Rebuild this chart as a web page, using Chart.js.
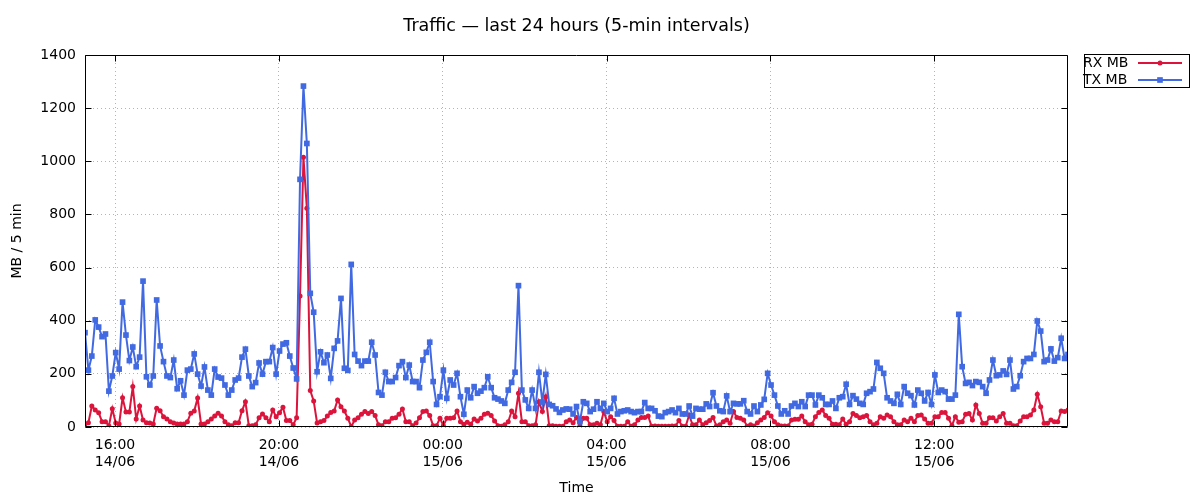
<!DOCTYPE html>
<html>
<head>
<meta charset="utf-8">
<title>Traffic - last 24 hours</title>
<script src="https://cdn.jsdelivr.net/npm/chart.js@4.4.1/dist/chart.umd.min.js"></script>
<style>
    html, body { margin: 0; padding: 0; background: #fff; }
    #wrap { width: 1200px; height: 500px; }
</style>
</head>
<body>
<div id="wrap"><canvas id="trafficChart" width="1200" height="500"></canvas></div>
<script>
// One sample every 5 minutes, first one at 15:16 on 14/06 (minutes from 00:00 14/06)
const startMinute = 916;
const stepMinutes = 5;

// Received MB per 5 min
const rxMB = [
    11, 16, 79, 64, 54, 20, 20, 4, 69, 15, 11, 110, 56, 56, 152, 30, 79, 26, 16, 15, 11, 71, 61, 39, 30, 20, 15, 11, 11, 11, 20, 52, 60, 109, 11, 11, 20,
    30, 41, 52, 41, 20, 8, 5, 16, 16, 61, 95, 5, 5, 8, 35, 49, 35, 20, 64, 39, 54, 74, 24, 24, 8, 35, 493, 1015, 823, 137, 98, 15, 20, 24, 41,
    55, 60, 102, 76, 60, 33, 1, 26, 35, 48, 58, 51, 58, 43, 8, 5, 20, 20, 33, 35, 48, 68, 20, 20, 5, 15, 35, 58, 60, 43, 5, 5, 33, 5, 33, 33,
    35, 60, 20, 10, 18, 10, 30, 23, 33, 48, 52, 43, 23, 5, 3, 8, 20, 60, 39, 127, 20, 20, 5, 5, 8, 95, 58, 114, 5, 5, 3, 3, 3, 20,
    26, 16, 36, 3, 33, 33, 8, 8, 14, 8, 58, 20, 39, 24, 3, 3, 3, 20, 3, 8, 26, 36, 36, 41, 3, 4, 3, 3, 3, 3, 4, 4, 24, 3, 3,
    45, 8, 8, 26, 8, 16, 24, 36, 4, 8, 20, 26, 14, 58, 36, 33, 26, 3, 8, 4, 16, 26, 36, 54, 41, 20, 8, 4, 4, 4, 26, 29, 29, 41, 20,
    8, 10, 39, 55, 64, 43, 33, 10, 10, 8, 30, 10, 20, 51, 43, 35, 39, 43, 20, 8, 14, 39, 33, 45, 39, 20, 8, 8, 26, 20, 33, 20, 43, 45, 30,
    14, 14, 39, 39, 55, 55, 33, 5, 39, 18, 20, 48, 51, 26, 83, 51, 14, 14, 35, 35, 23, 39, 51, 14, 14, 5, 5, 23, 39, 39, 45, 64, 123, 76, 14, 14, 26, 20, 20, 60, 58, 64
];

// Transmitted MB per 5 min
const txMB = [
    355, 214, 267, 403, 376, 340, 350, 135, 192, 280, 218, 470, 346, 250, 301, 227, 263, 549, 189, 158, 192, 478, 305, 246, 192, 186, 252, 144, 174, 120, 214, 218, 275, 199, 154, 226, 139,
    120, 218, 188, 184, 158, 120, 139, 177, 184, 263, 293, 192, 152, 167, 241, 199, 246, 246, 299, 199, 286, 312, 317, 267, 222, 181, 932, 1283, 1067, 503, 432, 208, 283, 242, 271,
    183, 296, 324, 484, 221, 213, 612, 273, 248, 231, 248, 248, 319, 271, 130, 120, 206, 171, 171, 186, 231, 246, 186, 233, 171, 171, 148, 252, 281, 319, 171, 85, 114, 214, 108, 177,
    158, 202, 114, 48, 139, 110, 152, 127, 135, 148, 189, 148, 110, 105, 98, 89, 139, 168, 206, 532, 139, 102, 70, 139, 70, 206, 94, 198, 85, 80, 68, 55, 64, 68,
    67, 49, 77, 20, 95, 89, 58, 67, 95, 70, 89, 58, 70, 108, 49, 58, 61, 64, 58, 54, 58, 58, 92, 70, 70, 61, 41, 39, 54, 58, 64, 54, 70, 49, 49,
    79, 41, 70, 67, 67, 87, 77, 129, 79, 61, 58, 117, 58, 89, 87, 87, 99, 58, 49, 79, 58, 83, 104, 202, 158, 120, 79, 49, 61, 49, 79, 89, 77, 95, 77,
    120, 120, 83, 120, 110, 85, 85, 98, 70, 110, 114, 161, 85, 118, 105, 89, 85, 127, 133, 143, 243, 221, 202, 110, 98, 89, 123, 85, 152, 127, 118, 83, 139, 127, 98,
    130, 85, 196, 130, 139, 133, 105, 105, 120, 424, 227, 164, 168, 156, 171, 168, 152, 127, 177, 252, 193, 196, 211, 198, 252, 143, 152, 193, 246, 258, 258, 273, 399, 361, 246, 252, 294, 248, 261, 334, 258, 273
];

// x axis ticks
const tickMinutes = [960, 1200, 1440, 1680, 1920, 2160];
const tickTimes = ['16:00', '20:00', '00:00', '04:00', '08:00', '12:00'];
const tickDates = ['14/06', '14/06', '15/06', '15/06', '15/06', '15/06'];

// y axis ticks
const yTicks = [0, 200, 400, 600, 800, 1000, 1200, 1400];

const RED = '#dc143c';
const BLUE = '#4169e1';
const FONT = 'DejaVu Sans';

function toPoints(values) {
    return values.map((v, i) => ({ x: startMinute + i * stepMinutes, y: v }));
}

// gnuplot style box round the plot, with inward tick marks on all four sides
const framePlugin = {
    id: 'frame',
    afterDraw(chart) {
        const { ctx, chartArea: a, scales } = chart;
        const L = Math.round(a.left) + 0.5, R = Math.round(a.right) - 0.5;
        const T = Math.round(a.top) + 0.5, B = Math.round(a.bottom) - 0.5;
        ctx.save();
        ctx.strokeStyle = '#000';
        ctx.lineWidth = 1;
        ctx.beginPath();
        ctx.rect(L, T, R - L, B - T);
        yTicks.forEach(v => {
            const py = Math.round(scales.y.getPixelForValue(v)) + 0.5;
            ctx.moveTo(L, py); ctx.lineTo(L + 6, py);
            ctx.moveTo(R, py); ctx.lineTo(R - 6, py);
        });
        tickMinutes.forEach(v => {
            const px = Math.round(scales.x.getPixelForValue(v)) + 0.5;
            ctx.moveTo(px, B); ctx.lineTo(px, B - 6);
            ctx.moveTo(px, T); ctx.lineTo(px, T + 6);
        });
        ctx.stroke();

        // key box, top right outside the plot
        ctx.strokeRect(1084.5, 54.5, 105, 33);
        ctx.font = '14px "' + FONT + '"';
        ctx.textBaseline = 'middle';
        ctx.textAlign = 'left';
        const rows = [
            { label: 'RX MB', color: RED, style: 'circle', radius: 2.5, y: 63 },
            { label: 'TX MB', color: BLUE, style: 'rect', radius: 4, y: 80 }
        ];
        rows.forEach(r => {
            ctx.fillStyle = '#000';
            ctx.fillText(r.label, 1083, r.y);
            ctx.strokeStyle = r.color;
            ctx.lineWidth = 2;
            ctx.beginPath();
            ctx.moveTo(1138, r.y); ctx.lineTo(1182, r.y);
            ctx.stroke();
            ctx.fillStyle = r.color;
            Chart.helpers.drawPoint(ctx, { pointStyle: r.style, radius: r.radius, borderWidth: 0 }, 1160, r.y);
        });
        ctx.restore();
    }
};

new Chart(document.getElementById('trafficChart'), {
    type: 'line',
    data: {
        datasets: [{
            label: 'RX MB',
            data: toPoints(rxMB),
            borderColor: RED,
            backgroundColor: RED,
            borderWidth: 2,
            pointStyle: 'circle',
            pointRadius: 2.5,
            pointBorderWidth: 0,
            tension: 0,
            order: 1
        }, {
            label: 'TX MB',
            data: toPoints(txMB),
            borderColor: BLUE,
            backgroundColor: BLUE,
            borderWidth: 2,
            pointStyle: 'rect',
            pointRadius: 4,
            pointBorderWidth: 0,
            tension: 0,
            order: 0
        }]
    },
    options: {
        responsive: false,
        animation: false,
        devicePixelRatio: 1,
        layout: { padding: { left: 0, right: 132, top: 0, bottom: 0 } },
        plugins: {
            legend: { display: false },
            tooltip: { enabled: false },
            title: {
                display: true,
                text: 'Traffic \u2014 last 24 hours (5-min intervals)',
                fullSize: false,
                color: '#000',
                font: { family: FONT, size: 17.5, weight: 'normal' },
                padding: { top: 16, bottom: 18 }
            }
        },
        scales: {
            x: {
                type: 'linear',
                min: startMinute,
                max: startMinute + (txMB.length - 1) * stepMinutes,
                afterBuildTicks: scale => { scale.ticks = tickMinutes.map(v => ({ value: v })); },
                afterFit: scale => { scale.height = 73; },
                border: { display: false, dash: [1, 3] },
                grid: { color: '#b4b4b4', drawTicks: false },
                ticks: {
                    color: '#000',
                    font: { family: FONT, size: 14 },
                    padding: 10,
                    maxRotation: 0,
                    callback: value => {
                        const k = tickMinutes.indexOf(value);
                        return k < 0 ? '' : [tickTimes[k], tickDates[k]];
                    }
                },
                title: {
                    display: true,
                    text: 'Time',
                    color: '#000',
                    font: { family: FONT, size: 14 },
                    padding: { top: 4, bottom: 3 }
                }
            },
            y: {
                min: 0,
                max: 1400,
                afterBuildTicks: scale => { scale.ticks = yTicks.map(v => ({ value: v })); },
                afterFit: scale => { scale.width = 85; },
                border: { display: false, dash: [1, 3] },
                grid: { color: '#b4b4b4', drawTicks: false },
                ticks: {
                    color: '#000',
                    font: { family: FONT, size: 14 },
                    padding: 9,
                    callback: value => String(value)
                },
                title: {
                    display: true,
                    text: 'MB / 5 min',
                    color: '#000',
                    font: { family: FONT, size: 14 },
                    padding: { top: 9, bottom: 0 }
                }
            }
        }
    },
    plugins: [framePlugin]
});
</script>
</body>
</html>
